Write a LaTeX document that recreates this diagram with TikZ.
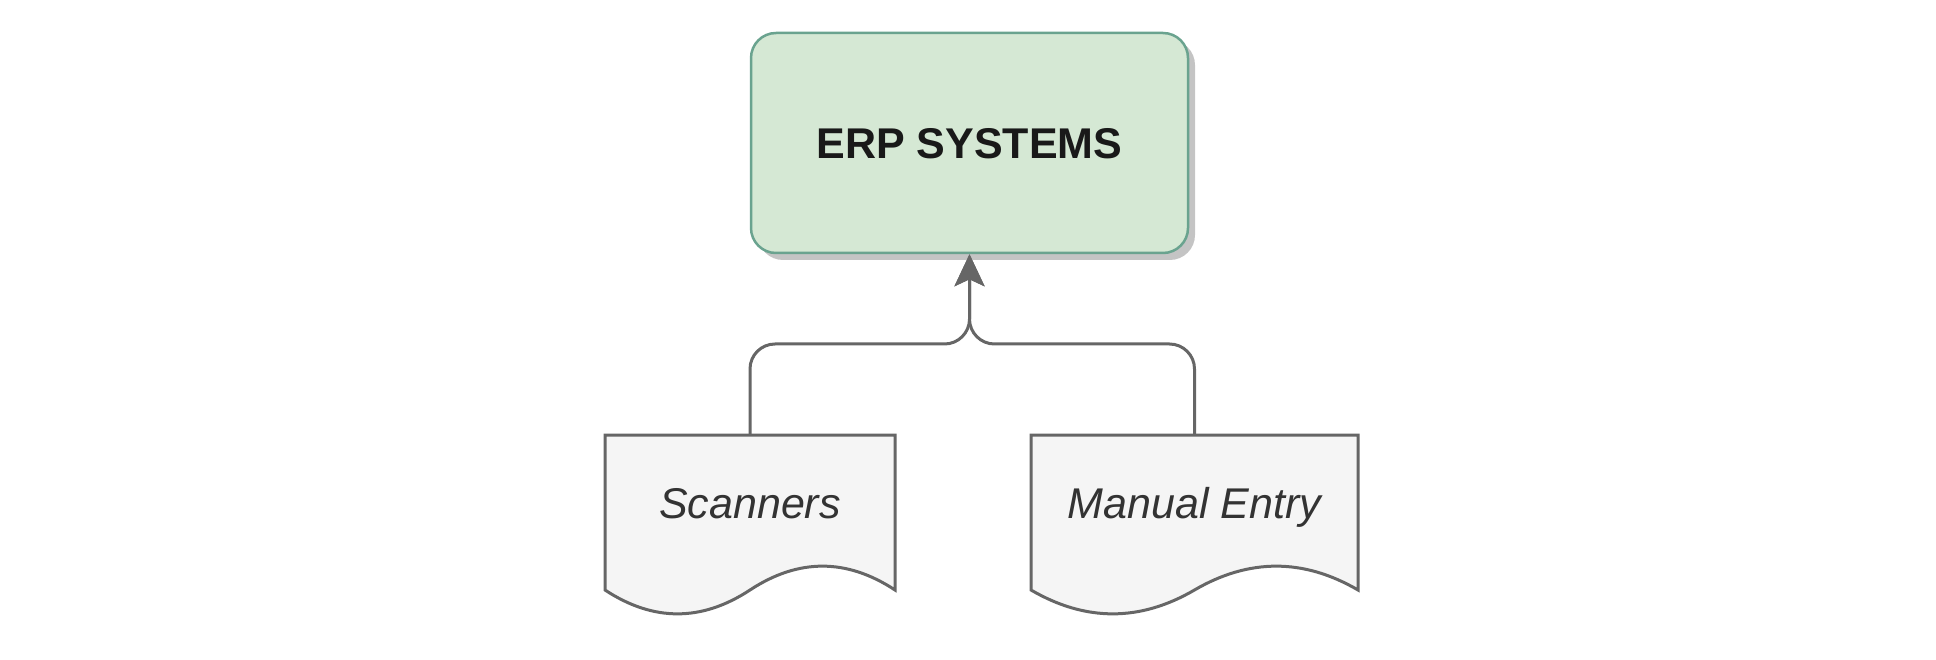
\documentclass[tikz,border=0pt]{standalone}
\usepackage{fontspec}
\setmainfont{Liberation Sans}
\usetikzlibrary{shadows,arrows.meta,positioning}
\definecolor{erpfill}{HTML}{D5E8D4}
\definecolor{erpline}{HTML}{6AA38F}
\definecolor{docfill}{HTML}{F5F5F5}
\definecolor{docline}{HTML}{666666}
\definecolor{connline}{HTML}{666666}
\definecolor{shadowgray}{HTML}{C4C4C4}
\tikzset{
  erpbox/.style={rectangle, rounded corners=25pt, draw=erpline, line width=2.5pt, fill=erpfill,
    minimum width=437pt, minimum height=220pt, inner sep=0pt,
    text height=31pt, text depth=0pt,
    drop shadow={shadow xshift=7pt, shadow yshift=-7pt, fill=shadowgray, opacity=1},
    font=\fontsize{43}{50}\selectfont\bfseries, text=black!90},
  doctext/.style={rectangle, inner sep=0pt, minimum height=136pt, anchor=north,
    text height=31pt, text depth=0pt,
    font=\fontsize{43}{50}\selectfont\itshape, text=black!80},
  docpath/.style={draw=docline, fill=docfill, line width=3pt, line join=miter},
  conn/.style={draw=connline, line width=3pt, rounded corners=25pt,
    -{Stealth[length=32pt,width=30pt,inset=7pt]}},
  docshape/.pic={
    \path[docpath] (0,0) -- (1,0) -- (1,155) .. controls (0.8333,123.2) and (0.6667,123.2) .. (0.5,155)
      .. controls (0.3333,186.8) and (0.1667,186.8) .. (0,155) -- cycle;
  }
}
\begin{document}
\begin{tikzpicture}[x=1pt,y=-1pt]
\useasboundingbox (0,0) rectangle (1936,660);
\node[erpbox] (erp) at (969.5,143) {ERP SYSTEMS};
\pic[xscale=290] at (605,435) {docshape};
\pic[xscale=327] at (1031,435) {docshape};
\node[doctext, minimum width=290pt] (sc) at (750,435) {Scanners};
\node[doctext, minimum width=327pt] (me) at (1194.5,435) {Manual Entry};
\coordinate (j) at (969.5,344);
\draw[conn] (sc.north) |- (j) -- (erp.south);
\draw[conn] (me.north) |- (j) -- (erp.south);
\end{tikzpicture}
\end{document}
